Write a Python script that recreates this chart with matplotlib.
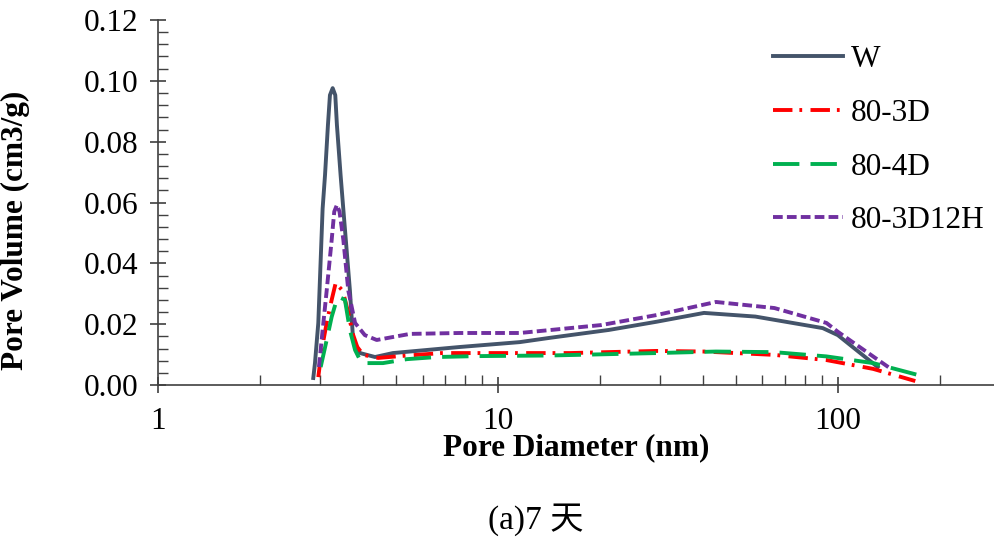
"""Pore size distribution, 7 days."""

import matplotlib.pyplot as plt
from matplotlib.ticker import FixedLocator, MultipleLocator, NullFormatter

plt.rcParams["font.family"] = ["Liberation Serif", "Noto Sans CJK SC"]
plt.rcParams["lines.scale_dashes"] = False

# W
w_x = [2.863, 2.896, 2.962, 3.05, 3.10, 3.162, 3.205, 3.265, 3.323, 3.36, 3.445, 3.508, 3.67, 3.75,
       3.93, 4.35, 4.91, 7.73, 11.6, 14.2, 21.2, 29.3, 40.4, 57.2, 90.3, 100, 131]
w_y = [0.0023, 0.0072, 0.0204, 0.058, 0.069, 0.0855, 0.0953, 0.0976, 0.0953, 0.0855, 0.069, 0.058, 0.031, 0.0148,
       0.0105, 0.0092, 0.0105, 0.0125, 0.0141, 0.0155, 0.0181, 0.0208, 0.0237, 0.0225, 0.0187, 0.0164, 0.0059]

# 80-3D
d3_x = [2.962, 3.03, 3.135, 3.243, 3.332, 3.494, 3.63, 3.737, 3.857, 4.018, 4.446, 5.15, 6.83, 9.03,
        16.3, 29.3, 40.4, 65.1, 92.6, 127, 169]
d3_y = [0.0026, 0.0115, 0.0204, 0.028, 0.0335, 0.031, 0.0237, 0.017, 0.0125, 0.0099, 0.0089, 0.0095, 0.0105, 0.0105,
        0.0105, 0.0112, 0.011, 0.0099, 0.0082, 0.0053, 0.0013]

# 80-4D
d4_x = [3.01, 3.135, 3.243, 3.355, 3.414, 3.548, 3.67, 3.80, 3.93, 4.06, 4.59, 5.40, 6.62, 8.67,
        14.2, 29.3, 43.8, 65.0, 92.6, 127, 172]
d4_y = [0.0059, 0.0148, 0.0224, 0.028, 0.0289, 0.028, 0.018, 0.0115, 0.0082, 0.0072, 0.0072, 0.0085, 0.0092, 0.0095,
        0.0097, 0.0105, 0.011, 0.0108, 0.0094, 0.0072, 0.0033]

# 80-3D12H
h_x = [2.975, 3.05, 3.135, 3.243, 3.30, 3.36, 3.42, 3.51, 3.63, 3.80, 4.06, 4.40, 5.51, 7.73,
       11.6, 20.1, 29.3, 43.8, 65.1, 92.6, 100, 142]
h_y = [0.0059, 0.018, 0.031, 0.0477, 0.057, 0.0592, 0.057, 0.0477, 0.031, 0.0204, 0.0164, 0.0148, 0.0168, 0.0171,
       0.0171, 0.0197, 0.023, 0.0273, 0.0253, 0.0204, 0.0175, 0.0056]

fig = plt.figure(figsize=(9.95, 5.44), dpi=100)
ax = fig.add_axes([158 / 995, 1 - 385 / 544, (995 - 158) / 995, 365 / 544])

ax.plot(w_x, w_y, color="#44546a", lw=2.8, label="W")
ax.plot(d3_x, d3_y, color="#ff0000", lw=2.8, dashes=(14, 5, 2, 6), label="80-3D")
ax.plot(d4_x, d4_y, color="#00b050", lw=2.8, dashes=(19, 8), label="80-4D")
ax.plot(h_x, h_y, color="#7030a0", lw=2.8, dashes=(7, 3), label="80-3D12H")

ax.set_xscale("log")
ax.set_xlim(1, 290)
ax.set_ylim(0, 0.12)

ax.yaxis.set_major_locator(MultipleLocator(0.02))
ax.yaxis.set_minor_locator(MultipleLocator(0.004))
ax.yaxis.set_major_formatter(lambda v, pos: f"{v:.2f}")
ax.xaxis.set_major_locator(FixedLocator([1, 10, 100]))
ax.xaxis.set_major_formatter(lambda v, pos: f"{v:g}")
ax.xaxis.set_minor_formatter(NullFormatter())

for side in ("top", "right"):
    ax.spines[side].set_visible(False)
for side in ("left", "bottom"):
    ax.spines[side].set_color("#404040")
    ax.spines[side].set_linewidth(1.2)

ax.tick_params(which="major", direction="inout", length=12, width=1.2, color="#404040", labelsize=22.5)
ax.tick_params(which="minor", direction="in", length=7, width=1.0, color="#404040")
ax.tick_params(axis="x", which="major", pad=10)
ax.tick_params(axis="y", which="major", pad=8)

ax.set_xlabel("Pore Diameter (nm)", fontsize=22.5, fontweight="bold", labelpad=-2)
ax.set_ylabel("Pore Volume (cm3/g)", fontsize=22.5, fontweight="bold")
ax.yaxis.set_label_coords(-0.153, 0.425)

ax.legend(loc="upper left", bbox_to_anchor=(0.72, 0.965), borderaxespad=0, frameon=False,
          fontsize=22.5, handlelength=2.24, labelspacing=0.79, handletextpad=0.25)

fig.text(0.538, 0.045, "(a)7 天", ha="center", va="center", fontsize=24)

fig.savefig("out.png", dpi=100)
